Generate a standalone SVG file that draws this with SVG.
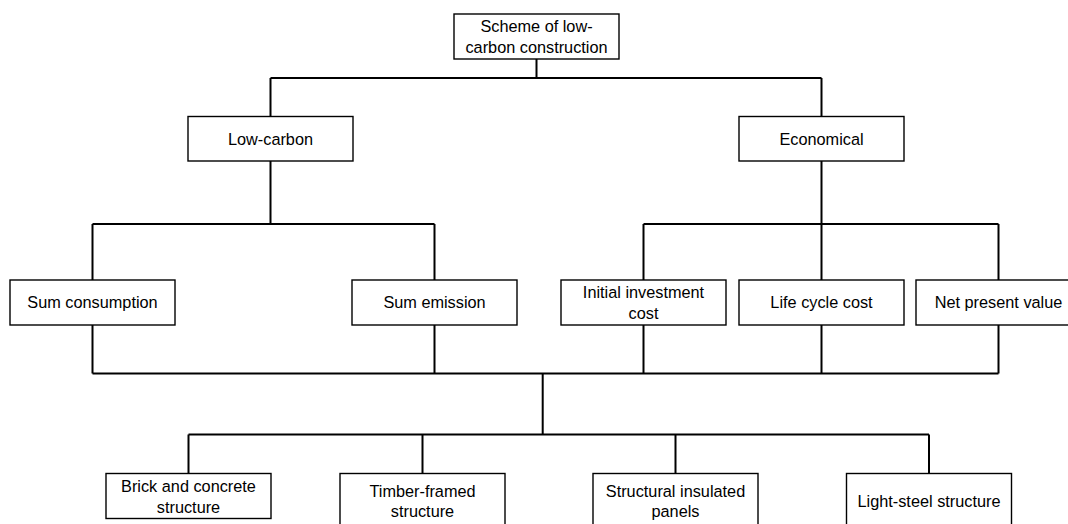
<svg xmlns="http://www.w3.org/2000/svg" width="1068" height="524" viewBox="0 0 1068 524">
<style>
.box{fill:#fff;stroke:#000;stroke-width:1.4}
.ln{fill:none;stroke:#000;stroke-width:2}
text{font-family:"Liberation Sans",Arial,sans-serif;font-size:16.3px;fill:#000;text-anchor:middle}
</style>
<rect width="1068" height="524" fill="#fff"/>
<g id="connectors">
<path class="ln" d="M536.5 59V78M270.5 78H821.5M270.5 78V116.5M821.5 78V116.5"/>
<path class="ln" d="M270.5 161V224M92.5 224H434.5M92.5 224V280M434.5 224V280"/>
<path class="ln" d="M821.5 161V224M643.5 224H998.5M643.5 224V280M821.5 224V280M998.5 224V280"/>
<path class="ln" d="M92.5 325V373.5M434.5 325V373.5M643.5 325V373.5M821.5 325V373.5M998.5 325V373.5M92.5 373.5H998.5"/>
<path class="ln" d="M542.7 373.5V434.5M188.5 434.5H929M188.5 434.5V473.5M422.5 434.5V473.5M675.5 434.5V473.5M929 434.5V473.5"/>
</g>
<g id="n-root"><rect class="box" x="454" y="14" width="165" height="45"/><text x="536.5" y="32.3">Scheme of low-</text><text x="536.5" y="53">carbon construction</text></g>
<g id="n-lowcarbon"><rect class="box" x="188" y="116.5" width="165" height="44.5"/><text x="270.5" y="144.6">Low-carbon</text></g>
<g id="n-economical"><rect class="box" x="739" y="116.5" width="165" height="44.5"/><text x="821.5" y="144.6">Economical</text></g>
<g id="n-sumcons"><rect class="box" x="10" y="280" width="165" height="45"/><text x="92.5" y="308.3">Sum consumption</text></g>
<g id="n-sumemis"><rect class="box" x="352" y="280" width="165" height="45"/><text x="434.5" y="308.3">Sum emission</text></g>
<g id="n-initial"><rect class="box" x="561" y="280" width="165" height="45"/><text x="643.5" y="297.8">Initial investment</text><text x="643.5" y="319.2">cost</text></g>
<g id="n-lcc"><rect class="box" x="739" y="280" width="165" height="45"/><text x="821.5" y="308.3">Life cycle cost</text></g>
<g id="n-npv"><rect class="box" x="916" y="280" width="165" height="45"/><text x="998.5" y="308.3">Net present value</text></g>
<g id="n-brick"><rect class="box" x="106" y="473.5" width="165" height="45"/><text x="188.5" y="491.7">Brick and concrete</text><text x="188.5" y="512.5">structure</text></g>
<g id="n-timber"><rect class="box" x="340" y="473.5" width="165" height="55"/><text x="422.5" y="496.7">Timber-framed</text><text x="422.5" y="517.3">structure</text></g>
<g id="n-sip"><rect class="box" x="593" y="473.5" width="165" height="55"/><text x="675.5" y="496.7">Structural insulated</text><text x="675.5" y="517.3">panels</text></g>
<g id="n-lightsteel"><rect class="box" x="846.5" y="473.5" width="165" height="55"/><text x="929" y="506.8">Light-steel structure</text></g>
</svg>
